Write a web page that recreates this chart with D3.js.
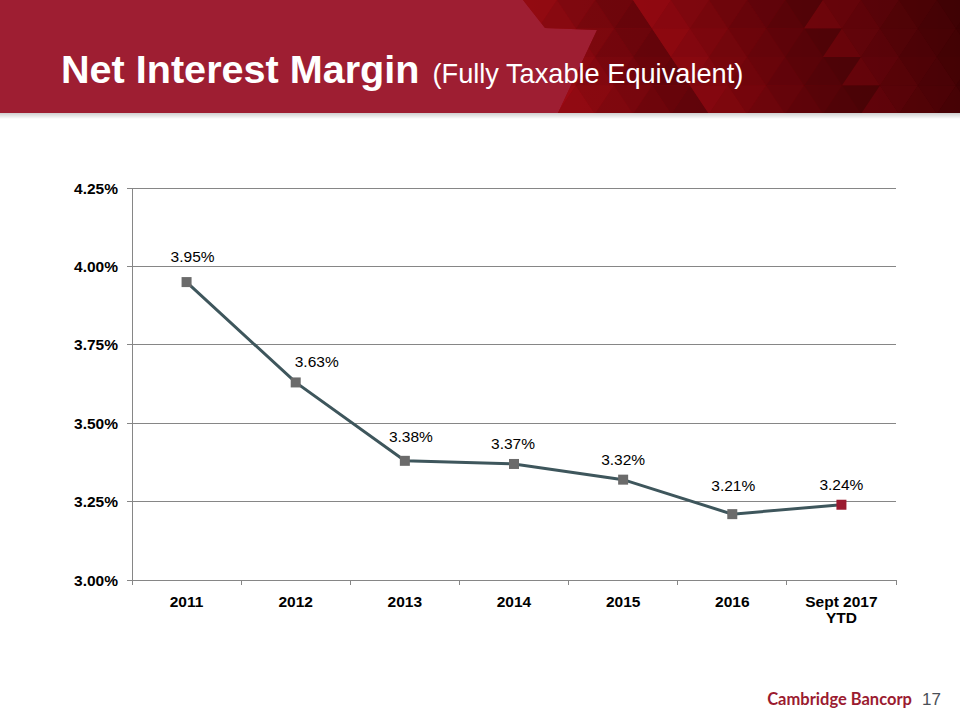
<!DOCTYPE html>
<html><head><meta charset="utf-8">
<script src="https://cdn.jsdelivr.net/npm/d3@7"></script>
<style>body{margin:0;background:#fff}svg{display:block;font-family:Arial,"Liberation Sans",sans-serif}</style>
</head><body>
<script>
const categories = ["2011","2012","2013","2014","2015","2016","Sept 2017\nYTD"];
const values = [3.95, 3.63, 3.38, 3.37, 3.32, 3.21, 3.24];
const yTicks = [3.00, 3.25, 3.50, 3.75, 4.00, 4.25];
// data-label placement (pixel offsets from each marker, as laid out in the original slide)
const labelDx = [6, 21, 6, -1, 0, 1, 0];
const labelDy = [-20, -15, -19, -15, -15, -23, -15];

const W = 960, H = 720;
const svg = d3.select("body").append("svg").attr("width", W).attr("height", H);

// ---- Header band ----
const defs = svg.append("defs");
svg.append("rect").attr("x",0).attr("y",0).attr("width",W).attr("height",113).attr("fill","#9e1e32");

const dg = defs.append("linearGradient").attr("id","dark").attr("x1","0").attr("x2","1");
dg.append("stop").attr("offset","0").attr("stop-color","#98080f");
dg.append("stop").attr("offset","0.55").attr("stop-color","#7c040a");
dg.append("stop").attr("offset","1").attr("stop-color","#3a0204");
const darkShape = "M523,0 L960,0 L960,113 L558,113 L597,30 L545,28 Z";
defs.append("clipPath").attr("id","dclip").append("path").attr("d", darkShape);
svg.append("path").attr("d", darkShape).attr("fill","url(#dark)");

const tri = svg.append("g").attr("clip-path","url(#dclip)");
const tw = 38, th = 28.5;
for (let row = 0; row < 4; row++) {
  for (let c = -1; c < 28; c++) {
    const x0 = 500 + c * tw / 2;
    const y0 = row * th;
    const up = (c + row) % 2 === 0;
    const pts = up ? [[x0,y0+th],[x0+tw/2,y0],[x0+tw,y0+th]] : [[x0,y0],[x0+tw/2,y0+th],[x0+tw,y0]];
    const h = ((c * 37 + row * 53 + 11) % 9) / 8;   // fixed shading pattern
    const fade = Math.max(0, Math.min(1, (x0 - 520) / 440));
    const base = d3.interpolateRgb("#a80c16", "#4e0206")(fade);
    const col = d3.interpolateRgb(base, "#2a0002")(h * 0.5);
    tri.append("path").attr("d", d3.line()(pts) + "Z").attr("fill", col).attr("opacity", 0.85);
  }
}
const sh = defs.append("linearGradient").attr("id","sh").attr("x1","0").attr("x2","0").attr("y1","0").attr("y2","1");
sh.append("stop").attr("offset","0").attr("stop-color","#cfcfcf");
sh.append("stop").attr("offset","1").attr("stop-color","#ffffff");
svg.append("rect").attr("x",0).attr("y",113).attr("width",W).attr("height",6).attr("fill","url(#sh)");

const title = svg.append("text").attr("x",61).attr("y",83).attr("fill","#fff");
title.append("tspan").attr("font-size",39.6).attr("font-weight","bold").text("Net Interest Margin");
title.append("tspan").attr("font-size",27.2).attr("dx",13).text("(Fully Taxable Equivalent)");

// ---- Chart ----
const pL = 132, pR = 896, pT = 188, pB = 580;
const x = d3.scaleBand().domain(categories).range([pL, pR]);
const y = d3.scaleLinear().domain([3.00, 4.25]).range([pB, pT]);

const g = svg.append("g");
g.selectAll("line.grid").data(yTicks).join("line")
  .attr("x1", pL - 5).attr("x2", pR).attr("y1", d => y(d)).attr("y2", d => y(d))
  .attr("stroke", "#868686").attr("stroke-width", 1).attr("shape-rendering","crispEdges");
g.append("line").attr("x1",pL).attr("x2",pL).attr("y1",pT).attr("y2",pB)
  .attr("stroke","#868686").attr("shape-rendering","crispEdges");
const bounds = categories.map(c => x(c)).concat([pR]);
g.selectAll("line.xt").data(bounds).join("line")
  .attr("x1", d => d).attr("x2", d => d).attr("y1", pB).attr("y2", pB + 5)
  .attr("stroke","#868686").attr("shape-rendering","crispEdges");

g.selectAll("text.yl").data(yTicks).join("text")
  .attr("x", pL - 14).attr("y", d => y(d) + 5.5).attr("text-anchor","end")
  .attr("font-size",15.5).attr("font-weight","bold").attr("fill","#000")
  .text(d => d.toFixed(2) + "%");

const xl = g.selectAll("text.xl").data(categories).join("text")
  .attr("x", d => x(d) + x.bandwidth()/2).attr("y", 607).attr("text-anchor","middle")
  .attr("font-size",15.5).attr("font-weight","bold").attr("fill","#000");
xl.each(function(d){
  const parts = d.split("\n");
  const t = d3.select(this);
  parts.forEach((p,i) => t.append("tspan").attr("x", x(d) + x.bandwidth()/2).attr("dy", i ? 16 : 0).text(p));
});

const cx = (d,i) => x(categories[i]) + x.bandwidth()/2;
g.append("path").datum(values)
  .attr("d", d3.line().x((d,i) => cx(d,i)).y(d => y(d)))
  .attr("fill","none").attr("stroke","#3e565c").attr("stroke-width",3);

g.selectAll("rect.m").data(values).join("rect")
  .attr("x", (d,i) => cx(d,i) - 5).attr("y", d => y(d) - 5).attr("width",10).attr("height",10)
  .attr("fill", (d,i) => i === values.length - 1 ? "#9b1b30" : "#6b6b6b");

g.selectAll("text.lab").data(values).join("text")
  .attr("x", (d,i) => cx(d,i) + labelDx[i]).attr("y", (d,i) => y(d) + labelDy[i]).attr("text-anchor","middle")
  .attr("font-size",15.5).attr("fill","#000")
  .text(d => d.toFixed(2) + "%");

// ---- Footer ----
svg.append("text").attr("x",912).attr("y",705).attr("text-anchor","end")
  .attr("font-size",16.5).attr("font-weight","bold").attr("fill","#9b1b30").attr("font-family","Lato, 'Open Sans', sans-serif")
  .text("Cambridge Bancorp");
svg.append("text").attr("x",922).attr("y",705).attr("font-size",17).attr("fill","#4a4f57").text("17");
</script>
</body></html>
